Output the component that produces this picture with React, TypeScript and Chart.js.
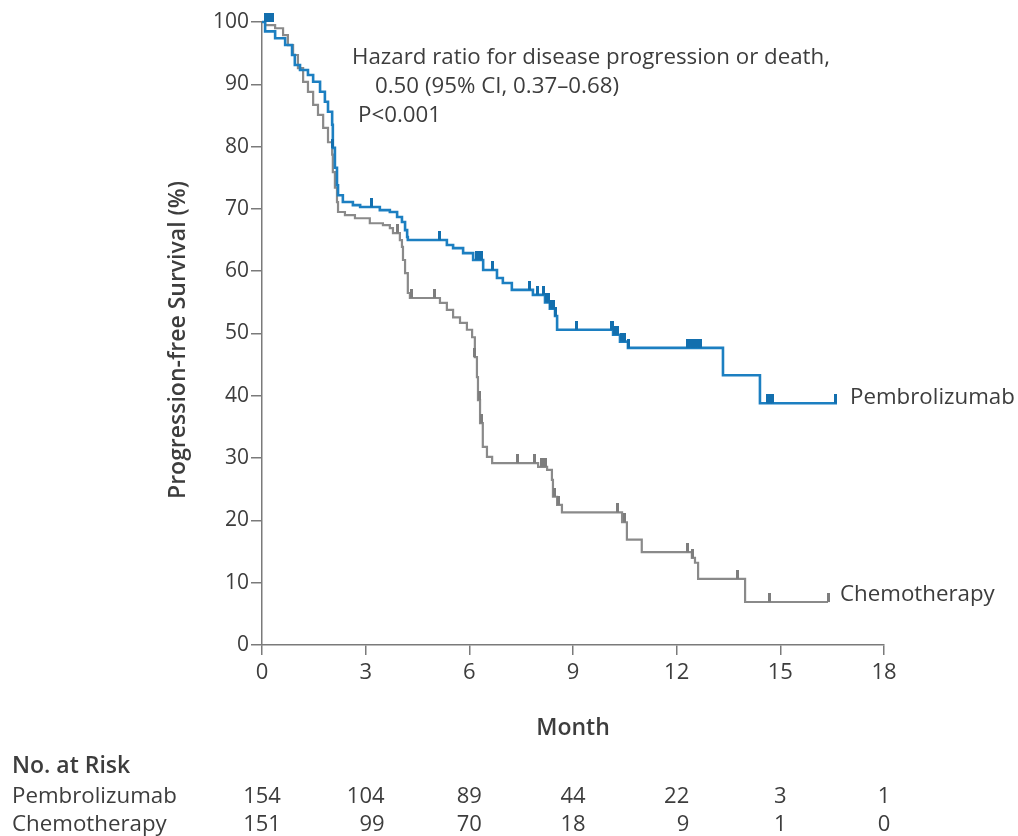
import React, { useEffect, useRef } from "react";
import { Chart, registerables } from "chart.js";

Chart.register(...registerables);

const FONT = '"Open Sans", "DejaVu Sans", sans-serif';

// Axis ticks (months) and number at risk
const monthTicks = [0, 3, 6, 9, 12, 15, 18];
const pembroAtRisk = [154, 104, 89, 44, 22, 3, 1];
const chemoAtRisk = [151, 99, 70, 18, 9, 1, 0];

// Kaplan-Meier step points: time (months) and survival (%) after each drop
const pembroTimes = [0, 0.09, 0.38, 0.67, 0.87, 0.95, 1.1, 1.33, 1.48, 1.68, 1.82, 1.91, 2.03, 2.05, 2.11, 2.17, 2.2, 2.34, 2.63, 2.84, 3.41, 3.7, 3.91, 4.05, 4.14, 4.2, 4.22, 5.35, 5.53, 5.82, 6.11, 6.4, 6.8, 6.97, 7.23, 7.84, 8.19, 8.33, 8.48, 8.54, 10.16, 10.36, 10.59, 13.34, 14.41, 16.64];
const pembroSurv = [100, 98.5, 97.4, 96.3, 94.7, 93.1, 92.3, 91.5, 90.4, 88.8, 87.2, 85.6, 83.5, 79.8, 76.6, 73.8, 72.2, 71.1, 70.6, 70.3, 69.8, 69.5, 68.7, 67.9, 66.6, 65.5, 65.0, 64.2, 63.7, 62.9, 61.8, 60.2, 58.9, 58.1, 57.0, 56.2, 55.0, 54.0, 52.8, 50.6, 49.8, 48.7, 47.7, 43.3, 38.8, 38.8];

const chemoTimes = [0, 0.09, 0.38, 0.61, 0.75, 0.9, 1.04, 1.19, 1.33, 1.48, 1.62, 1.77, 1.91, 2.03, 2.05, 2.11, 2.17, 2.2, 2.4, 2.69, 3.12, 3.5, 3.7, 3.79, 3.99, 4.05, 4.08, 4.14, 4.22, 4.28, 5.15, 5.35, 5.53, 5.73, 5.93, 6.08, 6.16, 6.22, 6.25, 6.31, 6.39, 6.51, 6.66, 7.99, 8.25, 8.39, 8.42, 8.54, 8.68, 10.42, 10.56, 10.99, 12.44, 12.53, 12.62, 13.98, 16.38];
const chemoSurv = [100, 99.5, 99.0, 97.9, 96.3, 94.7, 92.6, 90.4, 88.8, 86.7, 85.1, 83.0, 80.7, 78.7, 75.9, 73.4, 71.1, 69.5, 69.0, 68.5, 67.7, 67.4, 66.9, 66.1, 65.0, 63.9, 61.8, 59.7, 56.5, 55.7, 54.9, 53.8, 52.6, 51.7, 50.6, 49.4, 46.2, 43.0, 39.3, 35.6, 31.8, 30.2, 29.2, 28.6, 28.1, 26.5, 23.8, 22.5, 21.3, 19.7, 16.9, 14.9, 14.0, 13.2, 10.6, 6.9, 6.9];

// Censoring marks
const pembroCensorT = [0.1, 0.15, 0.2, 0.25, 0.3, 2.05, 3.18, 5.15, 6.2, 6.24, 6.28, 6.32, 6.36, 6.68, 7.75, 7.96, 8.14, 8.22, 8.26, 8.3, 8.36, 8.4, 8.44, 8.5, 9.11, 10.1, 10.14, 10.2, 10.26, 10.3, 10.4, 10.45, 10.5, 10.62, 12.3, 12.35, 12.4, 12.45, 12.5, 12.55, 12.6, 12.65, 12.7, 14.62, 14.67, 14.72, 14.78, 16.6];
const pembroCensorS = [100, 100, 100, 100, 100, 79.8, 70.3, 65.0, 61.8, 61.8, 61.8, 61.8, 61.8, 60.2, 57.0, 56.2, 56.2, 55.0, 55.0, 55.0, 54.0, 54.0, 54.0, 52.8, 50.6, 50.6, 50.6, 49.8, 49.8, 49.8, 48.7, 48.7, 48.7, 47.7, 47.7, 47.7, 47.7, 47.7, 47.7, 47.7, 47.7, 47.7, 47.7, 38.8, 38.8, 38.8, 38.8, 38.8];

const chemoCensorT = [3.91, 4.34, 5.0, 6.16, 6.28, 6.35, 7.38, 7.9, 8.1, 8.15, 8.2, 8.47, 8.58, 10.3, 10.5, 12.3, 12.47, 13.77, 14.7, 16.38];
const chemoCensorS = [66.1, 55.7, 55.7, 46.2, 39.3, 35.6, 29.2, 29.2, 28.6, 28.6, 28.6, 23.8, 22.5, 21.3, 19.7, 14.9, 14.0, 10.6, 6.9, 6.9];

const hrLines = [
  "Hazard ratio for disease progression or death,",
  "0.50 (95% CI, 0.37\u20130.68)",
  "P<0.001",
];
const seriesNames = ["Pembrolizumab", "Chemotherapy"];
const yTitle = "Progression-free Survival (%)";
const xTitle = "Month";
const riskTitle = "No. at Risk";

const BLUE = "#1c7fc1";
const BLUE_DARK = "#136fae";
const GREY = "#8a8a8a";
const AXIS = "#7a7a7a";
const TEXT = "#3d3d3d";

const zip = (t: number[], s: number[]) => t.map((v, i) => ({ x: v, y: s[i] }));

function makeTick(color: string) {
  const c = document.createElement("canvas");
  c.width = 3;
  c.height = 18;
  const g = c.getContext("2d")!;
  g.fillStyle = color;
  g.fillRect(0, 0, 3, 9);
  return c;
}

export default function App() {
  const ref = useRef<HTMLCanvasElement>(null);

  useEffect(() => {
    const canvas = ref.current!;
    const blueTick = makeTick(BLUE_DARK);
    const greyTick = makeTick("#7d7d7d");

    const textPlugin = {
      id: "texts",
      afterDraw(chart: any) {
        const { ctx } = chart;
        const xs = chart.scales.x;
        const ys = chart.scales.y;
        ctx.save();
        ctx.fillStyle = TEXT;
        ctx.textBaseline = "middle";
        ctx.textAlign = "left";
        ctx.font = `22.3px ${FONT}`;
        ctx.fillText(hrLines[0], 352, 58);
        ctx.fillText(hrLines[1], 375, 87);
        ctx.fillText(hrLines[2], 358, 116);

        // series labels at curve ends
        const pe = pembroTimes.length - 1;
        const ce = chemoTimes.length - 1;
        ctx.fillText(seriesNames[0], xs.getPixelForValue(pembroTimes[pe]) + 13, ys.getPixelForValue(pembroSurv[pe]) - 6);
        ctx.fillText(seriesNames[1], xs.getPixelForValue(chemoTimes[ce]) + 12, ys.getPixelForValue(chemoSurv[ce]) - 7);

        // y title
        ctx.save();
        ctx.translate(178, 340);
        ctx.rotate(-Math.PI / 2);
        ctx.textAlign = "center";
        ctx.font = `600 23px ${FONT}`;
        ctx.fillText(yTitle, 0, 0);
        ctx.restore();

        // x title
        ctx.textAlign = "center";
        ctx.font = `600 23px ${FONT}`;
        ctx.fillText(xTitle, (xs.left + xs.right) / 2, 728);

        // risk table
        ctx.textAlign = "left";
        ctx.fillText(riskTitle, 12, 766);
        ctx.font = `22.3px ${FONT}`;
        ctx.fillText(seriesNames[0], 12, 797);
        ctx.fillText(seriesNames[1], 12, 825);
        ctx.textAlign = "right";
        ctx.font = `22px ${FONT}`;
        monthTicks.forEach((m, i) => {
          const px = xs.getPixelForValue(m);
          const right = px + ctx.measureText(String(pembroAtRisk[i])).width / 2;
          ctx.fillText(String(pembroAtRisk[i]), right, 797);
          ctx.fillText(String(chemoAtRisk[i]), right, 825);
        });
        ctx.restore();
      },
    };

    const chart = new Chart(canvas, {
      type: "scatter",
      data: {
        datasets: [
          {
            data: zip(pembroCensorT, pembroCensorS),
            showLine: false,
            pointStyle: blueTick as any,
            pointRadius: 4,
            clip: false as any,
          },
          {
            data: zip(pembroTimes, pembroSurv),
            showLine: true,
            stepped: "before",
            borderColor: BLUE,
            borderWidth: 2.6,
            pointRadius: 0,
            clip: false as any,
          },
          {
            data: zip(chemoCensorT, chemoCensorS),
            showLine: false,
            pointStyle: greyTick as any,
            pointRadius: 4,
            clip: false as any,
          },
          {
            data: zip(chemoTimes, chemoSurv),
            showLine: true,
            stepped: "before",
            borderColor: GREY,
            borderWidth: 2.2,
            pointRadius: 0,
            clip: false as any,
          },
        ],
      },
      options: {
        animation: false,
        responsive: false,
        devicePixelRatio: 1,
        layout: { padding: { top: 22, right: 134, left: 0, bottom: 0 } },
        plugins: { legend: { display: false }, tooltip: { enabled: false } },
        scales: {
          x: {
            type: "linear",
            min: 0,
            max: 18,
            afterFit: (s: any) => {
              s.height = 191;
            },
            ticks: { stepSize: 3, color: TEXT, font: { family: FONT, size: 22 }, padding: 5, autoSkip: false },
            grid: { display: true, drawOnChartArea: false, drawTicks: true, tickLength: 10, color: AXIS, lineWidth: 1.5 },
            border: { display: true, color: AXIS, width: 1.5 },
          },
          y: {
            type: "linear",
            min: 0,
            max: 100,
            afterFit: (s: any) => {
              s.width = 262;
            },
            ticks: { stepSize: 10, color: TEXT, font: { family: FONT, size: 21 }, padding: 2 },
            grid: { display: true, drawOnChartArea: false, drawTicks: true, tickLength: 11, color: AXIS, lineWidth: 1.5 },
            border: { display: true, color: AXIS, width: 1.5 },
          },
        },
      },
      plugins: [textPlugin],
    });
    return () => chart.destroy();
  }, []);

  return (
    <div style={{ position: "absolute", left: 0, top: 0, width: 1018, height: 836, background: "#fff" }}>
      <canvas ref={ref} width={1018} height={836} style={{ display: "block" }} />
    </div>
  );
}
